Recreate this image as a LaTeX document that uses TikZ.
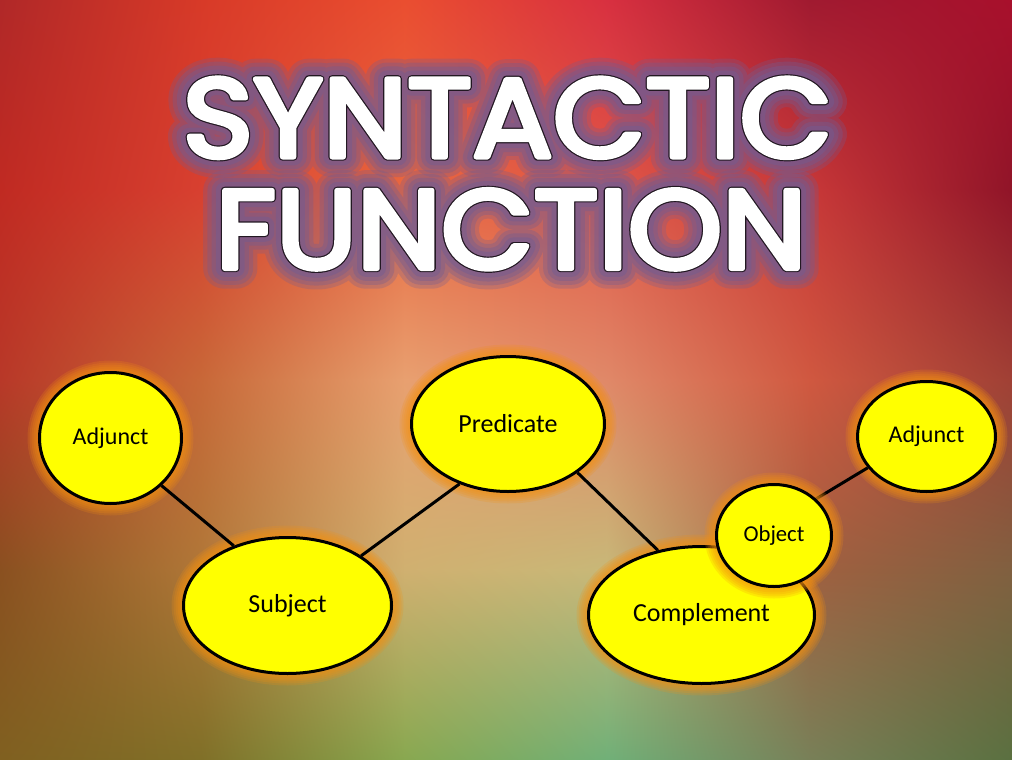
\documentclass[tikz,border=0pt]{standalone}
\usepackage{fontspec}
\setmainfont{Carlito}
\newfontfamily\tfHa{Poppins}[FakeBold=36]
\newfontfamily\tfHb{Poppins}[FakeBold=29]
\newfontfamily\tfHc{Poppins}[FakeBold=22]
\newfontfamily\tfHd{Poppins}[FakeBold=15]
\newfontfamily\tfB{Poppins}[FakeBold=6.6]
\newfontfamily\tfW{Poppins}[FakeBold=4.5]
\usetikzlibrary{shapes.geometric,shadings}
% background grid colours (column i, row j)
\definecolor{g00}{HTML}{B02828}\definecolor{g10}{HTML}{D83A28}\definecolor{g20}{HTML}{EA4E30}\definecolor{g30}{HTML}{D83040}\definecolor{g40}{HTML}{A01A30}\definecolor{g50}{HTML}{A8102C}
\definecolor{g01}{HTML}{C02A22}\definecolor{g11}{HTML}{D84030}\definecolor{g21}{HTML}{E86840}\definecolor{g31}{HTML}{E05848}\definecolor{g41}{HTML}{C83838}\definecolor{g51}{HTML}{901428}
\definecolor{g02}{HTML}{B83828}\definecolor{g12}{HTML}{C86838}\definecolor{g22}{HTML}{E8A070}\definecolor{g32}{HTML}{E08868}\definecolor{g42}{HTML}{D05840}\definecolor{g52}{HTML}{A04035}
\definecolor{g03}{HTML}{8A5020}\definecolor{g13}{HTML}{B07838}\definecolor{g23}{HTML}{D0B070}\definecolor{g33}{HTML}{C8B878}\definecolor{g43}{HTML}{A06040}\definecolor{g53}{HTML}{806040}
\definecolor{g04}{HTML}{806020}\definecolor{g14}{HTML}{807028}\definecolor{g24}{HTML}{88A850}\definecolor{g34}{HTML}{70B078}\definecolor{g44}{HTML}{788058}\definecolor{g54}{HTML}{5A7040}
\definecolor{haloc}{HTML}{725C92}
\definecolor{outlinec}{HTML}{221822}
\definecolor{bubfill}{HTML}{FFFF00}
\definecolor{bubglow}{HTML}{F39010}
\pgfdeclarelayer{bg}
\pgfdeclarelayer{glow}
\pgfdeclarelayer{lines}
\pgfdeclarelayer{objglow}
\pgfdeclarelayer{objlayer}
\pgfsetlayers{bg,glow,lines,main,objglow,objlayer}
\newcommand\halolayer[5]{% name, position, text, font, opacity
  \begin{scope}[transparency group, opacity=#5]
    \begin{scope}[line join=round]
      \node[tnode, text=haloc] (#1) at #2 {#4\fontsize{112}{112}\selectfont #3};
    \end{scope}
  \end{scope}
}
\newcommand\titleline[3]{% name, position, text
  \halolayer{#1ha}{#2}{#3}{\tfHa}{0.28}
  \halolayer{#1hb}{#2}{#3}{\tfHb}{0.33}
  \halolayer{#1hc}{#2}{#3}{\tfHc}{0.38}
  \halolayer{#1hd}{#2}{#3}{\tfHd}{0.45}
  \begin{scope}[line join=round]
  \node[tnode, text=outlinec] (#1b) at #2 {\tfB\fontsize{112}{112}\selectfont #3};
  \node[tnode, text=white] (#1w) at #2 {\tfW\fontsize{112}{112}\selectfont #3};
  \end{scope}
}
\newcommand\ellglow[4]{% x, y, rx, ry
  \foreach \k in {2,4,6,8,10,12}{
    \fill[bubglow, opacity=0.2] (#1,#2) ellipse [x radius=#3+\k, y radius=#4+\k];
  }
}
\tikzset{
  tnode/.style={anchor=base, inner sep=0pt, outer sep=0pt, xscale=1.07},
  bub/.style={ellipse, draw=black, line width=3pt, fill=bubfill, inner sep=0pt, text=black},
  conn/.style={line width=3pt, draw=black},
}
\begin{document}
\begin{tikzpicture}[x=1pt,y=-1pt]
\useasboundingbox (0,0) rectangle (1012,760);
% background
\begin{pgfonlayer}{bg}
\foreach \i [evaluate=\i as \ii using int(\i+1)] in {0,...,4}{
  \foreach \j [evaluate=\j as \jj using int(\j+1)] in {0,...,3}{
    \shade[upper left=g\i\j, upper right=g\ii\j, lower left=g\i\jj, lower right=g\ii\jj]
      ({\i*202.4-0.6},{\j*190-0.6}) rectangle ({\ii*202.4+0.6},{\jj*190+0.6});
  }
}
\end{pgfonlayer}
% title
\titleline{tA}{(507.5,157)}{SYNTACTIC}
\titleline{tB}{(511,268.5)}{FUNCTION}
% bubbles
\node[bub, minimum width=142pt, minimum height=131pt, font=\fontsize{24}{28}\selectfont] (adjL) at (110.5,438) {Adjunct};
\node[bub, minimum width=208pt, minimum height=136pt, font=\fontsize{26}{30}\selectfont] (subj) at (287.5,605.5) {Subject};
\node[bub, minimum width=193pt, minimum height=135pt, font=\fontsize{26}{30}\selectfont] (pred) at (508,424) {Predicate};
\node[bub, minimum width=226pt, minimum height=137pt, font=\fontsize{26}{30}\selectfont] (comp) at (701.5,615) {Complement};
\node[bub, minimum width=138pt, minimum height=110pt, font=\fontsize{24}{28}\selectfont] (adjR) at (926.5,436.5) {Adjunct};
\begin{pgfonlayer}{objlayer}
\node[bub, minimum width=115pt, minimum height=102pt, font=\fontsize{22.7}{26}\selectfont] (obj) at (774,535.5) {Object};
\end{pgfonlayer}
% glows
\begin{pgfonlayer}{glow}
\ellglow{110.5}{438}{71}{65.5}
\ellglow{287.5}{605.5}{104}{68}
\ellglow{508}{424}{96.5}{67.5}
\ellglow{701.5}{615}{113}{68.5}
\ellglow{926.5}{436.5}{69}{55}
\end{pgfonlayer}
\begin{pgfonlayer}{objglow}
\ellglow{774}{535.5}{57.5}{51}
\end{pgfonlayer}
% connectors
\begin{pgfonlayer}{lines}
\draw[conn] (adjL.-43) -- (subj.132);
\draw[conn] (subj.34) -- (pred.231);
\draw[conn] (pred.-35) -- (comp.124);
\draw[conn] (obj.41) -- (adjR.208);
\end{pgfonlayer}
\end{tikzpicture}
\end{document}
